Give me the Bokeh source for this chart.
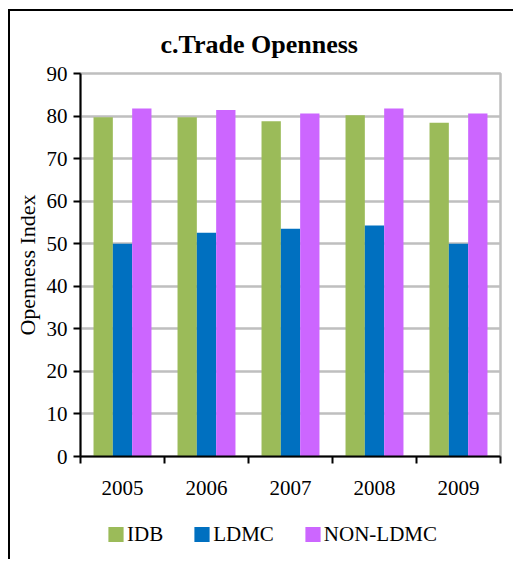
from bokeh.plotting import figure
from bokeh.models import ColumnDataSource, FixedTicker, Legend, LegendItem
from bokeh.layouts import column
from bokeh.transform import dodge
from bokeh.embed import file_html
from bokeh.resources import INLINE

years = ["2005", "2006", "2007", "2008", "2009"]
idb = [79.7, 79.7, 78.8, 80.2, 78.4]
ldmc = [50.0, 52.6, 53.5, 54.3, 50.0]
non_ldmc = [81.8, 81.4, 80.6, 81.8, 80.6]
series = ["IDB", "LDMC", "NON-LDMC"]
colors = ["#9BBB59", "#0070C0", "#CC66FF"]
y_ticks = [0, 10, 20, 30, 40, 50, 60, 70, 80, 90]

xpos = [i + 0.5 for i in range(len(years))]
src = ColumnDataSource(dict(x=xpos, idb=idb, ldmc=ldmc, non=non_ldmc))
cols = ["idb", "ldmc", "non"]

FONT = "Liberation Serif"
GRID = "#BFBFBF"

p = figure(frame_width=420, frame_height=383, output_backend="svg", toolbar_location=None,
           x_range=(0, 5), y_range=(0, 90),
           min_border_left=70, min_border_right=13, min_border_top=62, min_border_bottom=52)

p.title.text = "c.Trade Openness"
p.title.text_font = FONT
p.title.text_font_size = "26px"
p.title.text_font_style = "bold"
p.title.text_color = "black"
p.title.align = "left"
p.title.offset = 80
p.title.standoff = 30

bw = 0.23
offsets = [-bw, 0, bw]
for c, off, col in zip(cols, offsets, colors):
    p.vbar(x=dodge("x", off, range=p.x_range), top=c, width=bw, source=src,
           fill_color=col, line_color=None)

# x axis: labels at centers, tick marks at category boundaries
p.xaxis.ticker = FixedTicker(ticks=xpos, minor_ticks=list(range(len(years) + 1)))
p.xaxis.major_label_overrides = {x: y for x, y in zip(xpos, years)}
p.xaxis.major_tick_line_color = None
p.xaxis.major_tick_out = 0
p.xaxis.major_tick_in = 0
p.xaxis.minor_tick_line_color = "black"
p.xaxis.minor_tick_line_width = 2
p.xaxis.minor_tick_out = 7
p.xaxis.minor_tick_in = 0
p.xaxis.axis_line_color = "black"
p.xaxis.axis_line_width = 2
p.xaxis.major_label_text_font = FONT
p.xaxis.major_label_text_font_size = "21px"
p.xaxis.major_label_text_color = "black"
p.xaxis.major_label_standoff = 17

p.yaxis.ticker = FixedTicker(ticks=y_ticks)
p.yaxis.minor_tick_line_color = None
p.yaxis.major_tick_out = 7
p.yaxis.major_tick_in = 0
p.yaxis.major_tick_line_width = 2
p.yaxis.major_tick_line_color = "black"
p.yaxis.axis_line_color = "black"
p.yaxis.axis_line_width = 2
p.yaxis.major_label_text_font = FONT
p.yaxis.major_label_text_font_size = "21px"
p.yaxis.major_label_text_color = "black"
p.yaxis.major_label_standoff = 6
p.yaxis.axis_label = "Openness Index"
p.yaxis.axis_label_text_font = FONT
p.yaxis.axis_label_text_font_size = "22px"
p.yaxis.axis_label_text_font_style = "normal"
p.yaxis.axis_label_text_color = "black"
p.yaxis.axis_label_standoff = 4

p.xgrid.grid_line_color = None
p.ygrid.ticker = FixedTicker(ticks=y_ticks)
p.ygrid.grid_line_color = GRID
p.ygrid.grid_line_width = 2.5
p.outline_line_color = GRID
p.outline_line_width = 2.5
p.background_fill_color = "white"
p.border_fill_color = "white"

# legend strip below the chart
pl = figure(width=503, height=51, output_backend="svg", toolbar_location=None,
            x_range=(0, 5), y_range=(-2, -1), x_axis_type=None, y_axis_type=None,
            min_border_left=0, min_border_right=0, min_border_top=0, min_border_bottom=0)
pl.outline_line_color = None
pl.xgrid.grid_line_color = None
pl.ygrid.grid_line_color = None
pl.background_fill_color = "white"
pl.border_fill_color = "white"
items = []
for c, off, col, name in zip(cols, offsets, colors, series):
    r = pl.vbar(x=dodge("x", off, range=pl.x_range), top=c, width=bw, source=src,
                fill_color=col, line_color=None, visible=False)
    items.append(LegendItem(label=name, renderers=[r]))

legend = Legend(items=items, orientation="horizontal", location="center_left",
                glyph_width=19, glyph_height=19, label_standoff=2, spacing=29,
                padding=0, margin=26, border_line_color=None, background_fill_alpha=0,
                inactive_fill_alpha=0,
                label_text_font=FONT, label_text_font_size="21px", label_text_color="black",
                label_height=20)
pl.add_layout(legend, "center")

layout = column(p, pl, spacing=0)
layout.styles = {"margin-left": "8px", "margin-top": "9px",
                 "border-left": "2px solid black", "border-top": "2px solid black"}

open("out.html", "w").write(file_html(layout, INLINE))
